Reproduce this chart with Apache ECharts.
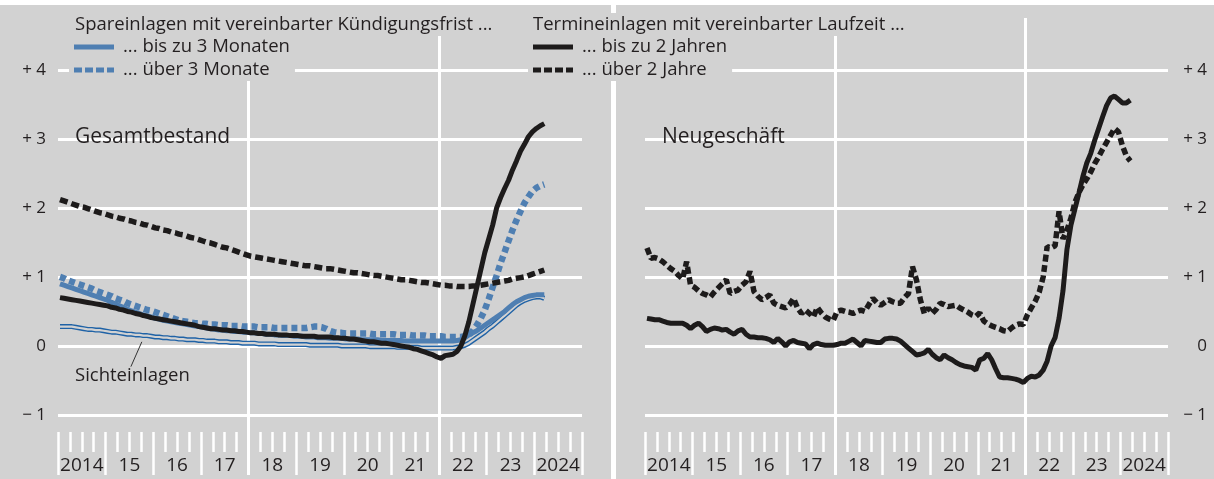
<!DOCTYPE html>
<html>
<head>
<meta charset="utf-8">
<title>Einlagenzinsen</title>
<script src="https://cdn.jsdelivr.net/npm/echarts@6.0.0/dist/echarts.min.js"></script>
<style>
  html, body { margin: 0; padding: 0; background: #ffffff; }
  #main { width: 1214px; height: 479px; }
</style>
</head>
<body>
<div id="main"></div>
<script type="text/javascript">
// Monatswerte ab Januar 2014, Prozentpunkte
var startYear = 2014;
var yearLabels = ['2014', '15', '16', '17', '18', '19', '20', '21', '22', '23', '2024'];

// Gesamtbestand
var spareBis3 = [
  0.90,0.88,0.86,0.84,0.82,0.80,0.78,0.76,0.74,0.72,0.70,0.68,
  0.66,0.63,0.61,0.58,0.56,0.53,0.51,0.49,0.47,0.45,0.43,0.42,
  0.40,0.39,0.37,0.36,0.35,0.34,0.33,0.32,0.31,0.30,0.29,0.28,
  0.27,0.26,0.25,0.24,0.23,0.23,0.22,0.22,0.21,0.21,0.20,0.20,
  0.19,0.19,0.18,0.18,0.17,0.17,0.16,0.16,0.15,0.15,0.15,0.14,
  0.14,0.14,0.13,0.13,0.13,0.12,0.12,0.12,0.11,0.11,0.11,0.11,
  0.10,0.10,0.10,0.10,0.09,0.09,0.09,0.09,0.09,0.08,0.08,0.08,
  0.08,0.08,0.08,0.07,0.07,0.07,0.07,0.07,0.07,0.07,0.07,0.07,
  0.07,0.07,0.07,0.07,0.08,0.09,0.12,0.16,0.19,0.22,0.26,0.30,
  0.34,0.38,0.42,0.46,0.50,0.55,0.60,0.64,0.67,0.70,0.72,0.73,
  0.74,0.74,0.74
];
var spareUeber3 = [
  1.00,0.98,0.95,0.93,0.91,0.89,0.87,0.85,0.83,0.80,0.78,0.76,
  0.74,0.72,0.69,0.67,0.65,0.62,0.60,0.58,0.56,0.54,0.52,0.51,
  0.49,0.47,0.45,0.43,0.41,0.39,0.37,0.36,0.35,0.34,0.33,0.33,
  0.32,0.32,0.31,0.31,0.30,0.30,0.30,0.29,0.29,0.29,0.28,0.28,
  0.28,0.28,0.27,0.27,0.27,0.27,0.26,0.26,0.26,0.26,0.26,0.26,
  0.26,0.26,0.26,0.27,0.28,0.28,0.27,0.25,0.22,0.20,0.19,0.19,
  0.18,0.18,0.18,0.18,0.18,0.18,0.18,0.17,0.17,0.17,0.17,0.17,
  0.17,0.16,0.16,0.16,0.16,0.15,0.15,0.15,0.15,0.14,0.14,0.14,
  0.14,0.13,0.13,0.13,0.13,0.13,0.14,0.16,0.22,0.30,0.40,0.52,
  0.68,0.85,1.02,1.20,1.36,1.52,1.68,1.82,1.95,2.07,2.16,2.24,
  2.29,2.32,2.34
];
var terminBis2 = [
  0.70,0.69,0.68,0.67,0.66,0.65,0.64,0.63,0.62,0.61,0.60,0.59,
  0.58,0.56,0.55,0.53,0.52,0.50,0.49,0.47,0.46,0.44,0.43,0.41,
  0.40,0.39,0.38,0.37,0.36,0.35,0.34,0.33,0.32,0.31,0.30,0.28,
  0.27,0.26,0.25,0.25,0.24,0.23,0.23,0.22,0.22,0.21,0.21,0.20,
  0.19,0.19,0.18,0.18,0.17,0.17,0.17,0.16,0.16,0.16,0.15,0.15,
  0.15,0.14,0.14,0.14,0.14,0.13,0.13,0.13,0.13,0.12,0.12,0.11,
  0.11,0.10,0.10,0.09,0.08,0.07,0.06,0.06,0.05,0.04,0.04,0.03,
  0.02,0.01,0.00,-0.01,-0.02,-0.04,-0.05,-0.07,-0.09,-0.11,-0.13,-0.16,
  -0.18,-0.14,-0.13,-0.12,-0.08,0.00,0.15,0.35,0.60,0.85,1.10,1.35,
  1.55,1.75,2.00,2.15,2.28,2.40,2.55,2.68,2.82,2.92,3.03,3.10,
  3.15,3.19,3.22
];
var terminUeber2 = [
  2.12,2.10,2.08,2.06,2.04,2.02,2.01,1.99,1.97,1.95,1.93,1.92,
  1.90,1.88,1.87,1.85,1.84,1.82,1.81,1.79,1.78,1.76,1.75,1.73,
  1.71,1.70,1.68,1.67,1.65,1.64,1.62,1.61,1.59,1.57,1.56,1.54,
  1.52,1.50,1.49,1.47,1.45,1.43,1.42,1.40,1.38,1.36,1.34,1.32,
  1.30,1.29,1.28,1.27,1.26,1.25,1.24,1.23,1.22,1.21,1.20,1.19,
  1.18,1.17,1.16,1.16,1.15,1.14,1.13,1.12,1.12,1.11,1.10,1.09,
  1.08,1.07,1.06,1.06,1.05,1.04,1.03,1.02,1.02,1.01,1.00,0.99,
  0.98,0.97,0.96,0.96,0.95,0.94,0.93,0.92,0.92,0.91,0.90,0.89,
  0.88,0.88,0.87,0.87,0.86,0.86,0.86,0.86,0.87,0.87,0.88,0.89,
  0.90,0.91,0.92,0.93,0.94,0.95,0.97,0.98,0.99,1.00,1.02,1.04,
  1.06,1.08,1.10
];
var sichteinlagen = [
  0.28,0.28,0.28,0.28,0.27,0.26,0.25,0.24,0.24,0.23,0.23,0.22,
  0.21,0.20,0.20,0.19,0.18,0.17,0.17,0.16,0.16,0.15,0.15,0.14,
  0.13,0.13,0.12,0.12,0.11,0.11,0.10,0.10,0.09,0.09,0.09,0.08,
  0.08,0.07,0.07,0.07,0.06,0.06,0.06,0.05,0.05,0.05,0.04,0.04,
  0.04,0.04,0.03,0.03,0.03,0.03,0.03,0.02,0.02,0.02,0.02,0.02,
  0.02,0.02,0.02,0.01,0.01,0.01,0.01,0.01,0.01,0.01,0.01,0.00,
  0.00,0.00,0.00,0.00,0.00,0.00,-0.01,-0.01,-0.01,-0.01,-0.01,-0.01,
  -0.01,-0.02,-0.02,-0.02,-0.02,-0.02,-0.02,-0.03,-0.03,-0.03,-0.03,-0.03,
  -0.03,-0.03,-0.03,-0.03,-0.02,-0.01,0.01,0.04,0.08,0.12,0.16,0.20,
  0.25,0.29,0.34,0.39,0.44,0.49,0.54,0.59,0.63,0.66,0.68,0.70,
  0.71,0.71,0.69
];

// Neugeschäft
var neuBis2 = [
  0.40,0.39,0.38,0.38,0.36,0.34,0.33,0.33,0.33,0.33,0.30,0.25,
  0.30,0.33,0.28,0.21,0.24,0.26,0.25,0.23,0.24,0.20,0.17,0.22,
  0.24,0.17,0.13,0.13,0.12,0.12,0.11,0.09,0.05,0.11,0.06,0.00,
  0.06,0.08,0.05,0.04,0.03,-0.04,0.02,0.04,0.02,0.01,0.01,0.01,
  0.02,0.04,0.04,0.07,0.10,0.05,0.00,0.08,0.07,0.06,0.05,0.05,
  0.10,0.11,0.11,0.10,0.07,0.02,-0.03,-0.08,-0.13,-0.12,-0.10,-0.05,
  -0.12,-0.17,-0.20,-0.13,-0.17,-0.20,-0.24,-0.27,-0.29,-0.30,-0.31,-0.35,
  -0.20,-0.18,-0.11,-0.20,-0.33,-0.45,-0.46,-0.46,-0.47,-0.48,-0.50,-0.53,
  -0.47,-0.44,-0.45,-0.42,-0.35,-0.22,0.00,0.12,0.40,0.80,1.40,1.75,
  1.98,2.21,2.45,2.65,2.79,2.98,3.15,3.32,3.48,3.59,3.62,3.57,
  3.52,3.52,3.56
];
var neuUeber2 = [
  1.42,1.27,1.28,1.26,1.22,1.17,1.12,1.08,1.02,0.97,1.22,0.88,
  0.85,0.80,0.76,0.74,0.71,0.78,0.84,0.90,0.96,0.76,0.79,0.81,
  0.88,0.93,1.08,0.79,0.72,0.67,0.70,0.74,0.62,0.59,0.57,0.55,
  0.60,0.69,0.55,0.47,0.52,0.47,0.42,0.56,0.48,0.42,0.39,0.37,
  0.50,0.52,0.50,0.49,0.47,0.50,0.52,0.50,0.60,0.69,0.63,0.59,
  0.63,0.67,0.64,0.62,0.62,0.70,0.76,1.15,0.96,0.67,0.47,0.55,
  0.47,0.53,0.62,0.60,0.57,0.58,0.59,0.55,0.52,0.49,0.45,0.43,
  0.48,0.36,0.32,0.29,0.27,0.25,0.22,0.21,0.26,0.30,0.32,0.31,
  0.45,0.55,0.65,0.78,1.00,1.44,1.42,1.45,1.95,1.55,1.68,1.85,
  2.08,2.22,2.33,2.42,2.52,2.64,2.74,2.85,2.95,3.05,3.15,3.10,
  2.90,2.75,2.68
];

var bgGrey = '#d2d2d2';
var textColor = '#231f20';
var blue = '#4f7fb2';
var darkBlue = '#1f62a6';
var black = '#1d1b1b';
var fontName = "'Open Sans', sans-serif";

// Legendensymbole: durchgezogen bzw. gestrichelt
var solidIcon = 'path://M0,0H40V5H0Z';
var dashIcon = 'path://M0,0H8V5H0Z M11,0H19V5H11Z M22,0H30V5H22Z M33,0H40V5H33Z';

function toPoints(values) {
  return values.map(function (v, i) {
    return [startYear + (i + 0.5) / 12, v];
  });
}

function signLabel(v) {
  if (v !== Math.round(v)) return '';
  if (v > 0) return '+ ' + v;
  if (v < 0) return '\u2212 ' + Math.abs(v);
  return '0';
}

var myChart = echarts.init(document.getElementById('main'));

function tickAxes(gridIndex) {
  return [
    {
      gridIndex: gridIndex, type: 'value', position: 'bottom', min: 2014, max: 2025, interval: 1,
      offset: 17,
      axisLine: { show: false, onZero: false },
      axisTick: { show: true, length: 43, lineStyle: { color: '#ffffff', width: 2.5 } },
      minorTick: { show: true, splitNumber: 4, length: 20, lineStyle: { color: '#ffffff', width: 2.5 } },
      axisLabel: { show: false },
      splitLine: { show: false }
    },
    {
      gridIndex: gridIndex, type: 'category', position: 'bottom', data: yearLabels, boundaryGap: true,
      axisLine: { show: false, onZero: false },
      axisTick: { show: false },
      axisLabel: { margin: 41, fontSize: 19, color: textColor, fontFamily: fontName, interval: 0 }
    },
    {
      gridIndex: gridIndex, type: 'value', position: 'bottom', min: 2014, max: 2025,
      axisLine: { show: false, onZero: false },
      axisTick: { show: true, customValues: [2018, 2022], length: 60, lineStyle: { color: '#ffffff', width: 3 } },
      axisLabel: { show: false },
      splitLine: { show: false }
    }
  ];
}

function valueAxis(gridIndex, position, labelAlign, margin) {
  return {
    gridIndex: gridIndex, type: 'value', position: position, min: -1, max: 4.75, interval: 1,
    axisLine: { show: false, onZero: false },
    axisTick: { show: false },
    axisLabel: {
      formatter: signLabel, align: labelAlign, margin: margin, showMaxLabel: false,
      fontSize: 17, color: textColor, fontFamily: fontName
    },
    splitLine: { show: true, showMaxLine: false, lineStyle: { color: '#ffffff', width: 3 } }
  };
}

var yearLines = {
  silent: true, symbol: 'none', z: 1,
  label: { show: false },
  lineStyle: { color: '#ffffff', width: 3, type: 'solid' },
  data: [{ xAxis: 2018 }, { xAxis: 2022 }]
};

function legendBlock(names, left) {
  return {
    data: [
      { name: names[0], icon: solidIcon },
      { name: names[1], icon: dashIcon }
    ],
    left: left, top: 36, orient: 'vertical',
    itemWidth: 40, itemHeight: 5, itemGap: 3, padding: [1, 5, 1, 5], backgroundColor: bgGrey,
    selectedMode: false,
    textStyle: { fontSize: 18.5, lineHeight: 20, color: textColor, fontFamily: fontName, padding: [0, 0, 0, 4] }
  };
}

var option = {
  backgroundColor: bgGrey,
  animation: false,
  textStyle: { fontFamily: fontName },
  graphic: [
    { type: 'rect', z: 0, shape: { x: 0, y: 0, width: 1214, height: 5 }, style: { fill: '#ffffff' } },
    { type: 'rect', z: 0, shape: { x: 611, y: 0, width: 5, height: 479 }, style: { fill: '#ffffff' } }
  ],
  title: [
    { text: 'Spareinlagen mit vereinbarter Kündigungsfrist ...', left: 70, top: 13, padding: [2, 5, 2, 5],
      backgroundColor: bgGrey, textStyle: { fontSize: 18.5, fontWeight: 'normal', color: textColor, fontFamily: fontName } },
    { text: 'Termineinlagen mit vereinbarter Laufzeit ...', left: 528, top: 13, padding: [2, 5, 2, 5],
      backgroundColor: bgGrey, textStyle: { fontSize: 18.5, fontWeight: 'normal', color: textColor, fontFamily: fontName } },
    { text: 'Gesamtbestand', left: 75, top: 127, padding: 0,
      textStyle: { fontSize: 21, fontWeight: 'normal', color: textColor, fontFamily: fontName } },
    { text: 'Neugeschäft', left: 662, top: 127, padding: 0,
      textStyle: { fontSize: 21, fontWeight: 'normal', color: textColor, fontFamily: fontName } },
    { text: 'Sichteinlagen', left: 75, top: 366, padding: 0,
      textStyle: { fontSize: 18.5, fontWeight: 'normal', color: textColor, fontFamily: fontName } }
  ],
  legend: [
    legendBlock(['... bis zu 3 Monaten', '... über 3 Monate'], 69),
    legendBlock(['... bis zu 2 Jahren', '... über 2 Jahre'], 528)
  ],
  grid: [
    { left: 58, right: 632, top: 18, bottom: 64 },
    { left: 645, right: 46, top: 18, bottom: 64 }
  ],
  xAxis: tickAxes(0).concat(tickAxes(1)),
  yAxis: [
    valueAxis(0, 'left', 'right', 12),
    valueAxis(1, 'right', 'right', 39)
  ],
  series: [
    {
      name: 'Sichteinlagen', type: 'line', xAxisIndex: 0, yAxisIndex: 0, symbol: 'none',
      lineStyle: { color: darkBlue, width: 5 }, data: toPoints(sichteinlagen),
      markLine: yearLines
    },
    {
      name: 'Sichteinlagen innen', type: 'line', xAxisIndex: 0, yAxisIndex: 0, symbol: 'none',
      lineStyle: { color: bgGrey, width: 2.2 }, data: toPoints(sichteinlagen),
      markLine: {
        silent: true, symbol: 'none', label: { show: false },
        lineStyle: { color: '#333333', width: 1, type: 'solid' },
        data: [[{ coord: [2015.76, 0.06] }, { coord: [2015.53, -0.30] }]]
      }
    },
    {
      name: '... bis zu 3 Monaten', type: 'line', xAxisIndex: 0, yAxisIndex: 0, symbol: 'none',
      itemStyle: { color: blue },
      lineStyle: { color: blue, width: 5 }, data: toPoints(spareBis3)
    },
    {
      name: '... über 3 Monate', type: 'line', xAxisIndex: 0, yAxisIndex: 0, symbol: 'none',
      itemStyle: { color: blue },
      lineStyle: { color: blue, width: 6.5, type: [6, 4] }, data: toPoints(spareUeber3)
    },
    {
      name: '... über 2 Jahre', type: 'line', xAxisIndex: 0, yAxisIndex: 0, symbol: 'none',
      itemStyle: { color: black },
      lineStyle: { color: black, width: 5.5, type: [8, 4] }, data: toPoints(terminUeber2)
    },
    {
      name: '... bis zu 2 Jahren', type: 'line', xAxisIndex: 0, yAxisIndex: 0, symbol: 'none',
      itemStyle: { color: black },
      lineStyle: { color: black, width: 5 }, data: toPoints(terminBis2)
    },
    {
      name: '... über 2 Jahre', type: 'line', xAxisIndex: 3, yAxisIndex: 1, symbol: 'none',
      itemStyle: { color: black },
      lineStyle: { color: black, width: 5.5, type: [7, 3.5] }, data: toPoints(neuUeber2),
      markLine: yearLines
    },
    {
      name: '... bis zu 2 Jahren', type: 'line', xAxisIndex: 3, yAxisIndex: 1, symbol: 'none',
      itemStyle: { color: black },
      lineStyle: { color: black, width: 5 }, data: toPoints(neuBis2)
    }
  ]
};

myChart.setOption(option);
</script>
</body>
</html>
